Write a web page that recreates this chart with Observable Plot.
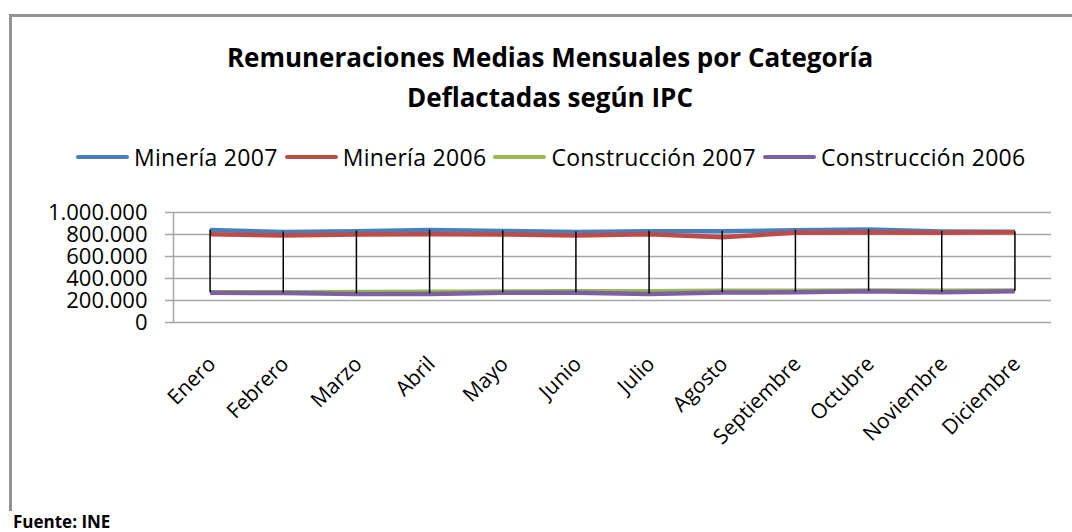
<!DOCTYPE html>
<html>
<head>
<meta charset="utf-8">
<script src="https://cdn.jsdelivr.net/npm/d3@7"></script>
<script src="https://cdn.jsdelivr.net/npm/@observablehq/plot@0.6"></script>
<style>
  html, body { margin: 0; padding: 0; background: #fff; }
  #wrap { position: relative; width: 1072px; height: 532px; overflow: hidden; background: #fff; font-family: "Open Sans", sans-serif; color: #000; }
  #border { position: absolute; left: 9px; top: 14px; width: 1100px; height: 494px; border-left: 3px solid #939393; border-top: 3px solid #939393; }
  #title { position: absolute; left: 0; width: 1100px; top: 37px; text-align: center; font-weight: bold; font-size: 26px; line-height: 40px; }
  #legend { position: absolute; left: 76px; top: 142px; display: flex; align-items: center; font-size: 23px; letter-spacing: 0.3px; line-height: 30px; white-space: nowrap; }
  #legend .item { display: flex; align-items: center; margin-right: 7px; }
  #legend .sw { width: 53px; height: 4.5px; border-radius: 2px; margin-right: 5px; }
  #chart { position: absolute; left: 0; top: 190px; }
  #source { position: absolute; left: 13px; top: 510px; font-weight: bold; font-size: 17px; }
</style>
</head>
<body>
<div id="wrap">
  <div id="border"></div>
  <div id="title"></div>
  <div id="legend"></div>
  <div id="chart"></div>
  <div id="source"></div>
</div>
<script>
// ---- data ----
const titleLines = ["Remuneraciones Medias Mensuales por Categoría", "Deflactadas según IPC"];
const sourceText = "Fuente: INE";
const months = ["Enero", "Febrero", "Marzo", "Abril", "Mayo", "Junio", "Julio", "Agosto", "Septiembre", "Octubre", "Noviembre", "Diciembre"];
const seriesNames = ["Minería 2007", "Minería 2006", "Construcción 2007", "Construcción 2006"];
const seriesColors = ["#4A7EBB", "#BE4B48", "#98B954", "#7D60A0"];
const mineria2007 = [840000, 822000, 830000, 840000, 832000, 822000, 830000, 830000, 838000, 845000, 828000, 825000];
const mineria2006 = [803000, 792000, 800000, 803000, 800000, 790000, 803000, 776000, 816000, 818000, 816000, 820000];
const construccion2007 = [274000, 274000, 277000, 280000, 282000, 284000, 285000, 288000, 288000, 290000, 288000, 291000];
const construccion2006 = [270000, 268000, 260000, 260000, 270000, 270000, 259000, 272000, 275000, 284000, 275000, 284000];
const yTicks = [0, 200000, 400000, 600000, 800000, 1000000];

// ---- build ----
const seriesValues = [mineria2007, mineria2006, construccion2007, construccion2006];
const table = [];
seriesNames.forEach((s, k) => months.forEach((m, i) => table.push({series: s, i, month: m, value: seriesValues[k][i]})));
const hilo = months.map((m, i) => {
  const vals = seriesValues.map(a => a[i]);
  return {i, lo: d3.min(vals), hi: d3.max(vals)};
});
const idx = months.map((m, i) => i);
const fmt = d3.formatLocale({decimal: ",", thousands: ".", grouping: [3], currency: ["", ""]}).format(",d");

document.getElementById("title").innerHTML = titleLines.map(t => `<div>${t}</div>`).join("");
document.getElementById("source").textContent = sourceText;
document.getElementById("legend").innerHTML = seriesNames.map((s, k) =>
  `<div class="item"><div class="sw" style="background:${seriesColors[k]}"></div><span>${s}</span></div>`).join("");

const plot = Plot.plot({
  width: 1072,
  height: 262,
  marginTop: 22,
  marginBottom: 130,
  marginLeft: 173,
  marginRight: 21,
  style: {fontFamily: "Open Sans", color: "#000", background: "transparent", overflow: "visible"},
  x: {type: "linear", domain: [-0.5, 11.5]},
  y: {domain: [0, 1000000]},
  color: {domain: seriesNames, range: seriesColors},
  marks: [
    Plot.gridY({ticks: yTicks, stroke: "#a6a6a6", strokeOpacity: 1, strokeWidth: 1.5}),
    Plot.ruleX([-0.5], {stroke: "#a6a6a6", strokeWidth: 1.5}),
    Plot.axisY({ticks: yTicks, tickFormat: fmt, tickSize: 8, tickPadding: 18, stroke: "#a6a6a6", strokeWidth: 1.5, fill: "#000", fontSize: 22, letterSpacing: "0.8px", label: null}),
    Plot.axisX({ticks: idx, tickFormat: i => months[i], tickRotate: -45, tickSize: 0, tickPadding: 38, dx: 2, fill: "#000", fontSize: 21, label: null}),
    Plot.line(table, {x: "i", y: "value", z: "series", stroke: "series", strokeWidth: 4.5, strokeLinejoin: "round", strokeLinecap: "butt"}),
    Plot.ruleX(hilo, {x: "i", y1: "lo", y2: "hi", stroke: "#000", strokeWidth: 1.5})
  ]
});
document.getElementById("chart").appendChild(plot);
</script>
</body>
</html>
